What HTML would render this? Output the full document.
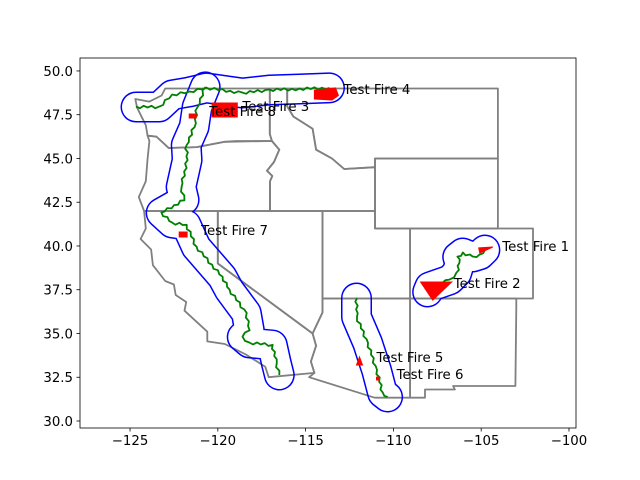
<!DOCTYPE html>
<html><head><meta charset="utf-8"><style>
html,body{margin:0;padding:0;background:#fff}
svg{display:block}
text{font-family:"DejaVu Sans","Liberation Sans",sans-serif;font-size:13.3px;fill:#000}
</style></head><body>
<svg id="chart" width="640" height="480" viewBox="0 0 640 480" xmlns="http://www.w3.org/2000/svg">
<rect width="640" height="480" fill="#fff"/>
<defs id="defs"></defs>
<g id="states"></g>
<g id="buffers"></g>
<g id="lines"></g>
<g id="fires"></g>
<g id="labels"></g>
<g id="axes"></g>
</svg>
<script>
const xTicks=[-125,-120,-115,-110,-105,-100];
const yTicks=[30,32.5,35,37.5,40,42.5,45,47.5,50];
const yTickLabels=["30.0","32.5","35.0","37.5","40.0","42.5","45.0","47.5","50.0"];
const states=[
 [[-124.7,48.4],[-124.6,47.9],[-124.1,46.9],[-124.0,46.3],[-123.5,46.25],[-122.8,45.6],[-121.2,45.65],[-119.6,45.95],[-118.98,46.0],[-116.92,46.0],[-117.04,46.4],[-117.04,49],[-123.0,49],[-123.2,48.6],[-123.9,48.25]],
 [[-124.0,46.3],[-123.5,46.25],[-122.8,45.6],[-121.2,45.65],[-119.6,45.95],[-116.92,46.0],[-116.5,45.5],[-116.8,44.8],[-117.2,44.3],[-116.9,44.0],[-117.03,43.7],[-117.03,42.0],[-124.2,42.0],[-124.5,42.8],[-124.1,43.7],[-124.0,45.0],[-123.9,46.0]],
 [[-124.2,42],[-120,42],[-120,39],[-114.6,35.0],[-114.4,34.3],[-114.7,33.4],[-114.5,32.75],[-117.1,32.5],[-117.3,33.1],[-118.4,33.8],[-118.8,34.0],[-119.6,34.4],[-120.6,34.55],[-120.6,35.1],[-121.9,36.3],[-121.8,36.8],[-122.4,37.2],[-122.5,37.8],[-123.0,38.0],[-123.7,38.9],[-123.8,39.8],[-124.4,40.4],[-124.1,41.0]],
 [[-120,42],[-114.04,42],[-114.04,36.2],[-114.6,35.0],[-120,39]],
 [[-114.04,37],[-109.05,37],[-109.05,31.33],[-111.07,31.33],[-114.8,32.5],[-114.5,32.75],[-114.7,33.4],[-114.4,34.3],[-114.6,35.0],[-114.04,36.2]],
 [[-114.04,42],[-111.05,42],[-111.05,41],[-109.05,41],[-109.05,37],[-114.04,37]],
 [[-109.05,41],[-102.05,41],[-102.05,37],[-109.05,37]],
 [[-109.05,37],[-103.0,37],[-103.0,36.5],[-103.05,32],[-106.6,32],[-106.5,31.8],[-108.2,31.8],[-108.2,31.33],[-109.05,31.33]],
 [[-117.04,49],[-116.05,49],[-116.05,47.98],[-115.7,47.4],[-114.6,46.7],[-114.4,45.5],[-113.5,45.0],[-112.8,44.4],[-111.05,44.5],[-111.05,42],[-117.03,42],[-117.03,43.7],[-116.9,44.0],[-117.2,44.3],[-116.8,44.8],[-116.5,45.5],[-116.92,46.0],[-117.04,46.4]],
 [[-116.05,49],[-104.05,49],[-104.05,45],[-111.05,45],[-111.05,44.5],[-112.8,44.4],[-113.5,45.0],[-114.4,45.5],[-114.6,46.7],[-115.7,47.4],[-116.05,47.98]],
 [[-111.05,45],[-104.05,45],[-104.05,41],[-111.05,41]]
];
const fireLines=[
 [[-124.66,47.94],[-123.34,47.94],[-122.6,48.63],[-121.63,48.8],[-120.66,49.03],[-118.61,48.74],[-117.07,48.91],[-115.35,48.97],[-113.64,49.03]],
 [[-120.72,49.09],[-121.18,47.94],[-121.35,46.8],[-121.8,45.77],[-121.75,44.91],[-122.09,43.37],[-121.92,42.63],[-123.23,41.89],[-122.6,41.31],[-121.8,41.2],[-121.23,39.94],[-119.75,38.23],[-119.35,37.49],[-118.38,36.17],[-118.21,35.2],[-118.61,34.8],[-118.21,34.46],[-116.9,34.34],[-116.67,33.31],[-116.5,32.63]],
 [[-112.1,37.03],[-112.1,35.94],[-111.47,34.46],[-110.96,32.91],[-110.62,31.6],[-110.33,31.37]],
 [[-108.05,37.37],[-107.93,37.66],[-106.79,38.06],[-106.39,38.46],[-106.22,39.03],[-106.34,39.37],[-106.05,39.6],[-105.48,39.37],[-105.08,39.49],[-104.79,39.77]]
];
const fireNames=["Test Fire 1","Test Fire 2","Test Fire 3","Test Fire 4","Test Fire 5","Test Fire 6","Test Fire 7","Test Fire 8"];
const firePolys=[
 [[-105.14,39.89],[-104.34,39.94],[-105.08,39.6]],
 [[-108.45,37.94],[-106.68,37.94],[-107.76,36.91]],
 [[-120.32,48.17],[-118.89,48.17],[-118.89,47.37],[-120.32,47.37]],
 [[-114.5,48.9],[-113.3,49.03],[-113.13,48.6],[-113.5,48.34],[-114.5,48.4]],
 [[-112.1,33.2],[-111.76,33.2],[-111.93,33.66]],
 [[-110.96,32.51],[-110.79,32.51],[-110.79,32.34],[-110.96,32.34]],
 [[-122.2,40.8],[-121.75,40.8],[-121.75,40.51],[-122.2,40.51]],
 [[-121.63,47.54],[-121.23,47.54],[-121.23,47.31],[-121.63,47.31]]
];
const labelLon=[-103.8,-106.56,-118.6,-112.84,-110.96,-109.82,-120.95,-120.49];
const labelLat=[40.0,37.89,48.0,48.97,33.66,32.69,40.91,47.71];

const L=80,R=576,T=58,B=428;
const xMin=-127.85,xMax=-99.6,yMin=29.6,yMax=50.74;
const X=v=>L+(v-xMin)/(xMax-xMin)*(R-L);
const Y=v=>B-(v-yMin)/(yMax-yMin)*(B-T);
const NS='http://www.w3.org/2000/svg';
function mk(tag,attrs,parent){const e=document.createElementNS(NS,tag);for(const k in attrs)e.setAttribute(k,attrs[k]);parent.appendChild(e);return e;}
const pts=p=>p.map(q=>X(q[0]).toFixed(1)+','+Y(q[1]).toFixed(1)).join(' ');
// jagged rendering of a line (visual style only)
function jagged(p){const out=[];for(let i=0;i<p.length-1;i++){const x0=X(p[i][0]),y0=Y(p[i][1]),x1=X(p[i+1][0]),y1=Y(p[i+1][1]);
 const d=Math.hypot(x1-x0,y1-y0),n=Math.max(1,Math.round(d/4));const nx=-(y1-y0)/(d||1),ny=(x1-x0)/(d||1);
 for(let k=0;k<n;k++){const t=k/n,a=(k%2?1.2:-1.2)*((k%3)?1:0.4);out.push((x0+(x1-x0)*t+nx*a).toFixed(1)+','+(y0+(y1-y0)*t+ny*a).toFixed(1));}}
 const l=p[p.length-1];out.push(X(l[0]).toFixed(1)+','+Y(l[1]).toFixed(1));return out.join(' ');}
const gS=document.getElementById('states');
states.forEach((s,i)=>{const e=mk('polygon',{points:pts(s),fill:'none',stroke:'#808080','stroke-width':1.8,'stroke-linejoin':'round'},gS);

});
const defs=document.getElementById('defs');
const gB=document.getElementById('buffers'),gL=document.getElementById('lines');
fireLines.forEach((ln,i)=>{
 const m=mk('mask',{id:'m'+i,maskUnits:'userSpaceOnUse',x:0,y:0,width:640,height:480},defs);
 mk('polyline',{points:pts(ln),fill:'none',stroke:'#fff','stroke-width':31,'stroke-linecap':'round','stroke-linejoin':'round'},m);
 mk('polyline',{points:pts(ln),fill:'none',stroke:'#000','stroke-width':28,'stroke-linecap':'round','stroke-linejoin':'round'},m);
 const b=mk('polyline',{points:pts(ln),fill:'none',stroke:'#0000ff','stroke-width':34,'stroke-linecap':'round','stroke-linejoin':'round',mask:'url(#m'+i+')'},gB);
 
 
 const g=mk('polyline',{points:jagged(ln),fill:'none',stroke:'#008000','stroke-width':1.8,'stroke-linejoin':'round'},gL);
 
 
});
const gF=document.getElementById('fires'),gT=document.getElementById('labels');
firePolys.forEach((p,i)=>{
 const f=mk('polygon',{points:pts(p),fill:'#ff0000',stroke:'#ff0000','stroke-width':1},gF);
 
 
 const t=mk('text',{x:X(labelLon[i]).toFixed(1),y:(Y(labelLat[i])+5).toFixed(1)},gT);
 t.textContent=fireNames[i];
 
 
});
const gA=document.getElementById('axes');
const fr=mk('rect',{x:L,y:T,width:R-L,height:B-T,fill:'none',stroke:'#000','stroke-width':0.8},gA);


xTicks.forEach(v=>{const x=X(v);
 mk('line',{x1:x,x2:x,y1:B,y2:B+3.5,stroke:'#000','stroke-width':0.8},gA);
 const t=mk('text',{x:x,y:B+17,'text-anchor':'middle'},gA);t.textContent=String(v).replace('-','\u2212');
 
 });
yTicks.forEach((v,i)=>{const y=Y(v);
 mk('line',{x1:L-3.5,x2:L,y1:y,y2:y,stroke:'#000','stroke-width':0.8},gA);
 const t=mk('text',{x:L-7,y:y+5,'text-anchor':'end'},gA);t.textContent=yTickLabels[i];
 
 });
</script>
</body></html>
